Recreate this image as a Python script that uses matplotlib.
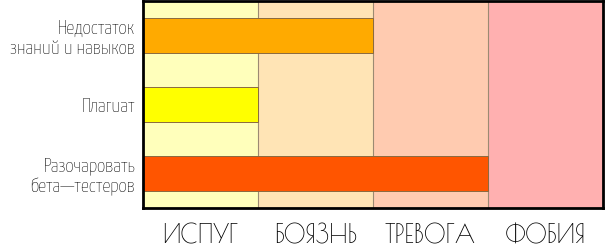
import matplotlib
matplotlib.use("Agg")
import matplotlib.pyplot as plt

# data
categories = ['Недостаток\nзнаний и навыков', 'Плагиат', 'Разочаровать\nбета\u2014тестеров']
levels = [2, 1, 3]
bar_colors = ['#ffaa00', '#ffff00', '#ff5500']
zone_labels = ['ИСПУГ', 'БОЯЗНЬ', 'ТРЕВОГА', 'ФОБИЯ']
zone_colors = ['#ffffbb', '#ffe4b5', '#ffcbb0', '#ffb0b0']

fig = plt.figure(figsize=(6.05, 2.49), dpi=100)
ax = fig.add_axes([143 / 605, 41 / 249, 460 / 605, 207 / 249])

# background zones
for i, c in enumerate(zone_colors):
    ax.axvspan(i, i + 1, color=c, zorder=0, lw=0)
for i in range(1, len(zone_colors)):
    ax.axvline(i, color='#9c8a72', lw=0.8, zorder=1)

# bars
ypos = list(range(len(categories)))
ax.barh(ypos, levels, height=0.5, color=bar_colors, edgecolor='#8a6a40', lw=0.7, zorder=2)

ax.set_xlim(0, len(zone_labels))
ax.set_ylim(len(categories) - 0.5, -0.5)

ax.set_yticks(ypos)
ax.set_yticklabels(categories, fontsize=14.5, family=['Yanone Kaffeesatz', 'DejaVu Sans'],
                   linespacing=1.2)
ax.set_xticks([i + 0.5 for i in range(len(zone_labels))])
ax.set_xticklabels(zone_labels, fontsize=18, family=['Poiret One', 'DejaVu Sans'])
ax.tick_params(axis='y', length=0, pad=6)
ax.tick_params(axis='x', length=0, pad=11)

for s in ax.spines.values():
    s.set_linewidth(2)
    s.set_color('black')
    s.set_zorder(5)

fig.savefig('out.png', dpi=100)
